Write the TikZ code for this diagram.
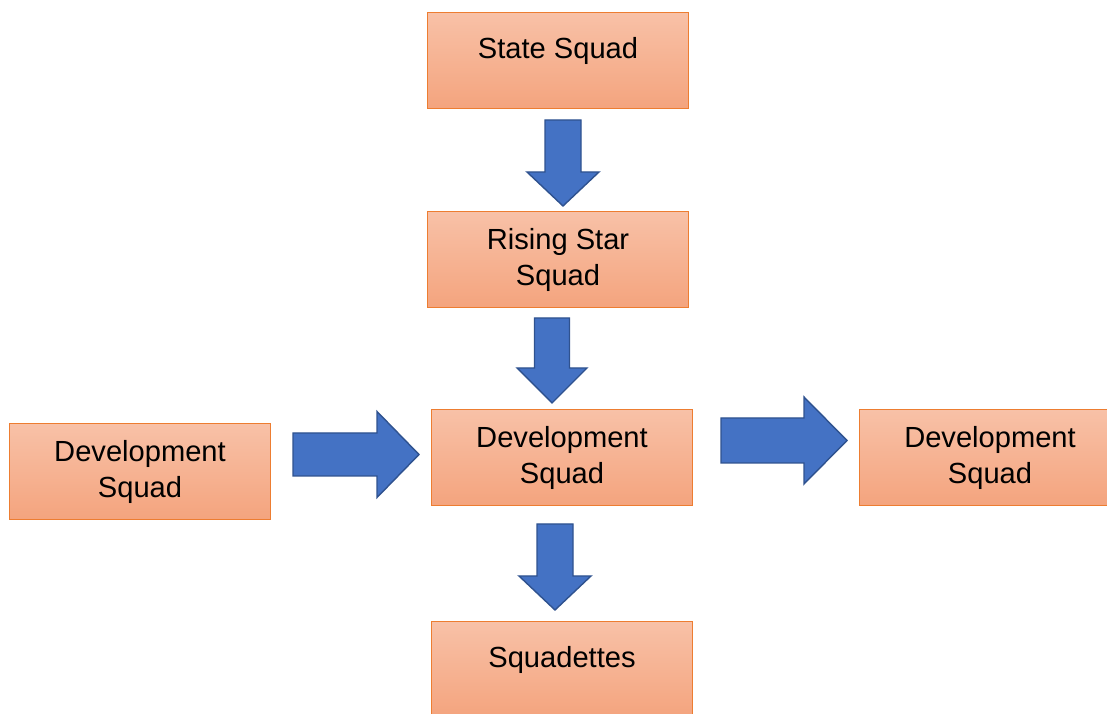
\documentclass[tikz,border=0pt]{standalone}
\usepackage{fontspec}
\setmainfont{Liberation Sans}
\usepackage{xcolor}
\usetikzlibrary{shapes, arrows}

\definecolor{boxtop}{HTML}{F8C1A7}
\definecolor{boxbot}{HTML}{F4A47E}
\definecolor{boxline}{HTML}{ED7D31}
\definecolor{arrowfill}{HTML}{4472C4}
\definecolor{arrowline}{HTML}{2F528F}

% block arrow: tail, angle, length, shaft half width, head half width, head length
\newcommand{\blockarrow}[6]{%
  \draw[bigarrow, shift={#1}, rotate=#2] (0,-#4) -- ({#3-#6},-#4) -- ({#3-#6},-#5)
    -- (#3,0) -- ({#3-#6},#5) -- ({#3-#6},#4) -- (0,#4) -- cycle;}

\begin{document}
\begin{tikzpicture}[x=0.025cm, y=-0.025cm]

\tikzstyle{squad} = [rectangle, text centered, align=center, draw=boxline, line width=0.7pt,
  top color=boxtop, bottom color=boxbot, minimum width=6.5cm, minimum height=2.375cm,
  font=\fontsize{20.7}{25.6}\selectfont]
\tikzstyle{oneline} = [text depth=0.62cm]
\tikzstyle{bigarrow} = [fill=arrowfill, draw=arrowline, line width=1pt, line join=miter]

\useasboundingbox (0,0) rectangle (1107,714);

\node (state) [squad, oneline] at (558,60.5) {State Squad};
\node (rising) [squad] at (558,259.5) {Rising Star\\Squad};
\node (devmid) [squad] at (562,457.5) {Development\\Squad};
\node (devleft) [squad] at (140,471.5) {Development\\Squad};
\node (devright) [squad] at (990,457.5) {Development\\Squad};
\node (squadettes) [squad, oneline] at (562,669.5) {Squadettes};

\blockarrow{(563,120)}{-90}{86}{18}{36}{34}
\blockarrow{(552,318)}{-90}{85}{17.5}{35}{35}
\blockarrow{(555,524)}{-90}{86}{18}{36}{34}
\blockarrow{(293,454.5)}{0}{126}{21.5}{43}{42}
\blockarrow{(721,440.5)}{0}{126}{22.5}{43.5}{43}
\end{tikzpicture}
\end{document}
